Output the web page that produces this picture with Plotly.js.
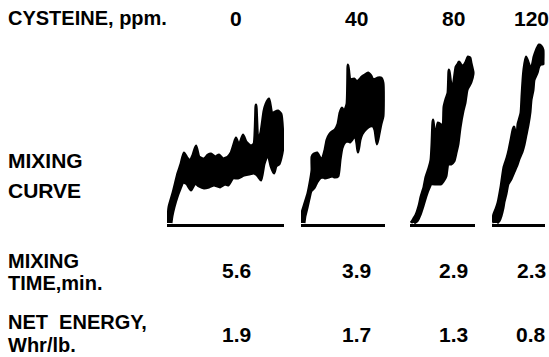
<!DOCTYPE html>
<html>
<head>
<meta charset="utf-8">
<script src="https://cdn.plot.ly/plotly-3.0.1.min.js"></script>
<style>html,body{margin:0;padding:0;background:#fff;}#chart{width:549px;height:357px;}</style>
</head>
<body>
<div id="chart"></div>
<script>
// Cysteine levels and results
var cysteine = ["0", "40", "80", "120"];
var mixingTime = ["5.6", "3.9", "2.9", "2.3"];
var netEnergy = ["1.9", "1.7", "1.3", "0.8"];

// Mixing curves: upper and lower envelopes (chart units, x = time, y = torque)
var c0UpX = [0,0,1,5,10,13,16,19,22,25,28,31,36,40,43,47,51,55,60,63,66,68,71,75,78,83,86,88,90,93,96,98,101,104,107,110,113,115];
var c0UpY = [1,2,17,31,51,60,71,66,63,69,78,67,65,69,70,67,69,65,67,71,80,86,78,89,82,78,80,119,82,92,113,120,125,110,112,113,110,84];
var c0LoX = [3,4,6,9,12,15,19,23,27,31,36,41,46,52,57,60,65,70,76,81,86,90,93,96,100,103,106,108,111,113,115];
var c0LoY = [1,8,17,27,35,42,40,34,41,38,36,37,39,37,40,39,46,46,49,50,51,48,44,60,70,58,51,58,60,66,78];

var c40UpX = [0,0,3,6,8,10,10,12,15,18,20,23,25,28,30,33,36,38,40,42,45,46,47,48,52,55,60,63,66,69,71,74,76,79,81];
var c40UpY = [1,11,21,31,41,54,67,70,71,66,64,74,84,90,92,94,100,111,116,112,120,159,150,144,145,142,147,149,151,148,144,145,146,146,141];
var c40LoX = [2,3,5,7,9,12,13,15,18,21,23,27,30,33,36,38,40,43,46,48,51,53,55,56,58,60,64,68,71,73,75,77,79,81];
var c40LoY = [1,8,16,25,33,36,38,42,46,47,46,47,48,47,48,64,76,82,83,82,86,90,80,72,84,90,95,98,98,94,80,90,100,108];

var c80UpX = [0,2,5,8,10,13,15,18,20,21,22,23,25,27,30,32,33,35,37,38,40,42,45,47,48,50,52,55,57,59,60,62];
var c80UpY = [1,4,9,18,27,37,47,56,64,80,104,95,90,101,99,97,117,125,131,154,140,138,157,160,162,159,158,162,167,166,161,152];
var c80LoX = [3,6,9,12,15,18,20,25,30,33,35,37,40,43,45,47,49,52,54,56,58,60,62];
var c80LoY = [1,3,9,18,28,36,40,40,40,44,48,60,60,63,71,80,96,113,121,134,138,142,150];

var c120UpX = [1,0,1,3,5,8,11,14,16,18,20,21,22,24,25,28,29,30,31,33,35,38,40,41,43,46,48,50,50];
var c120UpY = [1,5,10,15,21,37,57,66,74,84,94,97,92,90,100,111,128,144,155,167,162,154,162,167,173,179,178,174,162];
var c120LoX = [4,6,8,10,11,13,15,18,21,24,26,29,31,33,35,37,38,40,41,44,46,48,50];
var c120LoY = [1,3,8,16,22,30,40,45,52,59,65,72,79,89,99,112,124,134,144,151,158,160,160];

var curves = [
  {upX: c0UpX, upY: c0UpY, loX: c0LoX, loY: c0LoY},
  {upX: c40UpX, upY: c40UpY, loX: c40LoX, loY: c40LoY},
  {upX: c80UpX, upY: c80UpY, loX: c80LoX, loY: c80LoY},
  {upX: c120UpX, upY: c120UpY, loX: c120LoX, loY: c120LoY}
];

var W = 549, H = 357;
// panel pixel extents
var panelPx = [[167, 284], [301, 385], [410, 475], [492, 545]];
var baseY = 224, topY = 40;

var traces = [];
var layout = {
  width: W, height: H,
  margin: {l: 0, r: 0, t: 0, b: 0},
  paper_bgcolor: '#fff', plot_bgcolor: 'rgba(0,0,0,0)',
  showlegend: false,
  annotations: []
};

curves.forEach(function (c, i) {
  var xs = c.upX.concat(c.loX.slice().reverse());
  var ys = c.upY.concat(c.loY.slice().reverse());
  var n = i === 0 ? '' : String(i + 1);
  traces.push({
    type: 'scatter', mode: 'lines', x: xs, y: ys,
    fill: 'toself', fillcolor: '#000',
    line: {color: '#000', width: 3, shape: 'spline', smoothing: 0.5},
    xaxis: 'x' + n, yaxis: 'y' + n, hoverinfo: 'skip'
  });
  var px = panelPx[i];
  layout['xaxis' + n] = {
    domain: [px[0] / W, px[1] / W],
    range: [-1, px[1] - px[0] - 1],
    showline: true, linecolor: '#000', linewidth: 3,
    showgrid: false, zeroline: false, showticklabels: false, ticks: '',
    anchor: 'y' + n, fixedrange: true
  };
  layout['yaxis' + n] = {
    domain: [(H - baseY) / H, (H - topY) / H],
    range: [0, baseY - topY],
    visible: false, anchor: 'x' + n, fixedrange: true
  };
});

var FONT = '"Liberation Sans", Arial, Helvetica, sans-serif';
function ann(text, px, py, anchor, size) {
  layout.annotations.push({
    text: '<b>' + text + '</b>', xref: 'paper', yref: 'paper',
    x: px / W, y: 1 - py / H, xanchor: anchor, yanchor: 'middle',
    showarrow: false, font: {family: FONT, size: size, color: '#000'}
  });
}

var colX = [236, 357, 453, 531];
ann('CYSTEINE, ppm.', 6, 18, 'left', 20);
cysteine.forEach(function (t, i) { ann(t, colX[i], 18, 'center', 21); });
ann('MIXING', 6, 160, 'left', 21);
ann('CURVE', 6, 190, 'left', 21);
ann('MIXING', 6, 260.5, 'left', 20);
ann('TIME,min.', 6, 283, 'left', 20);
mixingTime.forEach(function (t, i) { ann(t, colX[i], 270, 'center', 21); });
ann('NET&nbsp; ENERGY,', 6, 322, 'left', 20);
ann('Whr/lb.', 6, 344.5, 'left', 20);
netEnergy.forEach(function (t, i) { ann(t, colX[i], 334, 'center', 21); });

Plotly.newPlot('chart', traces, layout, {staticPlot: true, displayModeBar: false});
</script>
</body>
</html>
